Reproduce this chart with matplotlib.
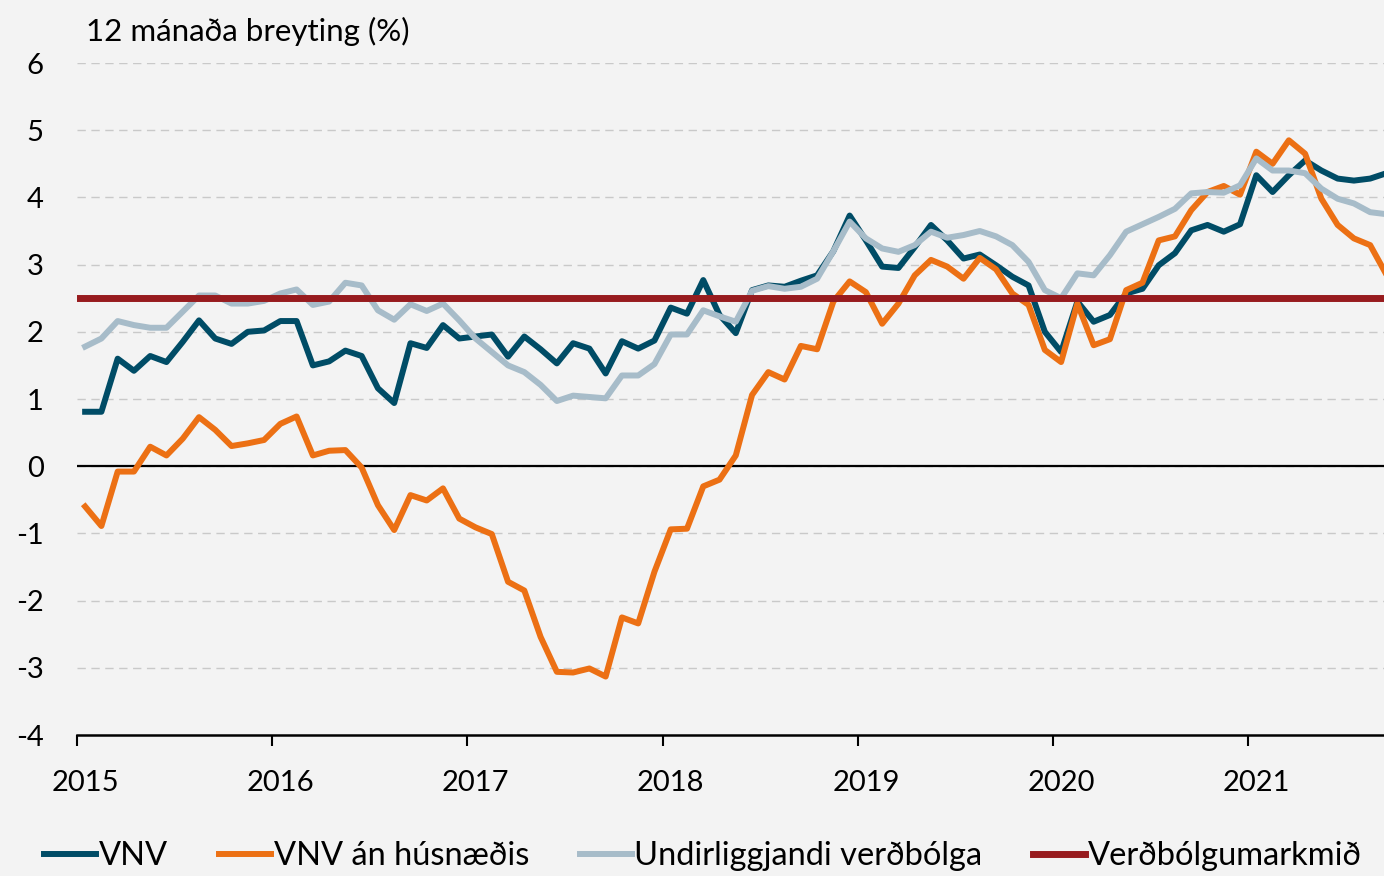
#Recreating the 12 month inflation chart (VNV, VNV without housing, core inflation, target)

#Importing the required libraries
import matplotlib
matplotlib.use('Agg')
import matplotlib.pyplot as plt
import numpy as np

#Monthly values, Jan 2015 - Sep 2021
vnv = [0.81, 0.81, 1.6, 1.42, 1.64, 1.55, 1.85, 2.17, 1.9, 1.82, 2.0, 2.02,
       2.16, 2.16, 1.5, 1.56, 1.72, 1.64, 1.16, 0.94, 1.83, 1.76, 2.1, 1.9,
       1.93, 1.96, 1.63, 1.93, 1.74, 1.53, 1.83, 1.75, 1.38, 1.86, 1.75, 1.87,
       2.36, 2.27, 2.77, 2.25, 1.98, 2.62, 2.69, 2.67, 2.76, 2.84, 3.2, 3.73,
       3.36, 2.97, 2.95, 3.26, 3.59, 3.36, 3.09, 3.15, 2.99, 2.82, 2.69, 2.0,
       1.7, 2.45, 2.15, 2.25, 2.57, 2.64, 2.99, 3.17, 3.51, 3.59, 3.49, 3.6,
       4.33, 4.08, 4.33, 4.55, 4.4, 4.28, 4.25, 4.28, 4.36]

vnv_an_husn = [-0.6, -0.89, -0.08, -0.08, 0.29, 0.16, 0.41, 0.73, 0.54, 0.3, 0.34, 0.39,
               0.63, 0.74, 0.16, 0.23, 0.24, -0.02, -0.58, -0.95, -0.43, -0.51, -0.33, -0.78,
               -0.91, -1.01, -1.72, -1.85, -2.54, -3.06, -3.07, -3.01, -3.13, -2.25, -2.34, -1.57,
               -0.94, -0.93, -0.3, -0.2, 0.16, 1.06, 1.4, 1.29, 1.79, 1.74, 2.45, 2.75,
               2.59, 2.12, 2.42, 2.84, 3.07, 2.97, 2.79, 3.1, 2.93, 2.57, 2.4, 1.73,
               1.55, 2.42, 1.8, 1.89, 2.62, 2.73, 3.36, 3.42, 3.81, 4.08, 4.17, 4.04,
               4.68, 4.5, 4.85, 4.65, 3.98, 3.59, 3.39, 3.29, 2.85]

undirliggjandi = [1.78, 1.9, 2.16, 2.1, 2.06, 2.06, 2.3, 2.54, 2.54, 2.42, 2.42, 2.46,
                  2.57, 2.63, 2.4, 2.45, 2.73, 2.69, 2.32, 2.18, 2.41, 2.31, 2.42, 2.17,
                  1.9, 1.7, 1.5, 1.4, 1.21, 0.97, 1.05, 1.03, 1.01, 1.35, 1.35, 1.52,
                  1.96, 1.96, 2.32, 2.23, 2.15, 2.61, 2.68, 2.64, 2.67, 2.79, 3.2, 3.64,
                  3.39, 3.24, 3.19, 3.29, 3.49, 3.4, 3.44, 3.5, 3.42, 3.29, 3.04, 2.62,
                  2.5, 2.87, 2.84, 3.14, 3.49, 3.6, 3.71, 3.83, 4.06, 4.08, 4.07, 4.18,
                  4.58, 4.4, 4.4, 4.36, 4.13, 3.98, 3.91, 3.78, 3.75]

markmid = 2.5

years = ['2015', '2016', '2017', '2018', '2019', '2020', '2021']
series_names = ['VNV', 'VNV án húsnæðis', 'Undirliggjandi verðbólga', 'Verðbólgumarkmið']

#Colours
c_vnv = '#004c66'
c_orange = '#ec7014'
c_grey = '#a7bcc9'
c_red = '#971b1e'
bg = '#f3f3f3'

plt.rcParams['font.family'] = ['Lato', 'DejaVu Sans']
plt.rcParams['axes.unicode_minus'] = False

fig = plt.figure(figsize=(13.84, 8.76), dpi=100, facecolor=bg)
ax = fig.add_axes([77 / 1384, 1 - 735 / 876, 1 - 77 / 1384, (735 - 63) / 876])
ax.set_facecolor(bg)

months = np.arange(len(vnv))

#Gridlines and zero line
for v in range(-3, 7):
    ax.axhline(v, color='#c9c9c9', lw=1, ls=(0, (6, 4)), zorder=1)
ax.axhline(0, color='black', lw=1.6, zorder=2)

#Series
ax.plot(months, vnv, color=c_vnv, lw=4.3, zorder=3, label=series_names[0])
ax.plot(months, vnv_an_husn, color=c_orange, lw=4.3, zorder=4, label=series_names[1])
ax.plot(months, undirliggjandi, color=c_grey, lw=4.3, zorder=5, label=series_names[2])
ax.plot([-0.5, len(vnv) + 1], [markmid, markmid], color=c_red, lw=5, zorder=6, label=series_names[3])

#Axes
ax.set_yticks(range(-4, 7))
ax.tick_params(axis='y', length=0, pad=24, labelsize=21)

ax.set_xticks([-0.5 + 12 * k for k in range(len(years))])
ax.set_xticklabels([])
ax.tick_params(axis='x', which='major', length=8, width=1.5, direction='out')
ax.set_xticks([12 * k for k in range(len(years))], minor=True)
ax.set_xticklabels(years, minor=True)
ax.tick_params(axis='x', which='minor', length=0, pad=25, labelsize=21)

ax.set_ylim(-4, 6)
ax.set_xlim(-0.5, 79.85)

for s in ['left', 'right', 'top']:
    ax.spines[s].set_visible(False)
ax.spines['bottom'].set_linewidth(1.8)

#Title above the plot
fig.text(86 / 1384, 1 - 31 / 876, '12 mánaða breyting (%)', fontsize=22.5, va='center', ha='left')

#Legend at the bottom
handles, labels = ax.get_legend_handles_labels()
fig.legend(handles, labels, loc='center', bbox_to_anchor=(0.508, 1 - 856 / 876), ncol=4,
           frameon=False, fontsize=23.5, handlelength=1.6, handletextpad=0.08, columnspacing=1.55)

#Saving the figure
fig.savefig('out.png', dpi=100, facecolor=bg)
